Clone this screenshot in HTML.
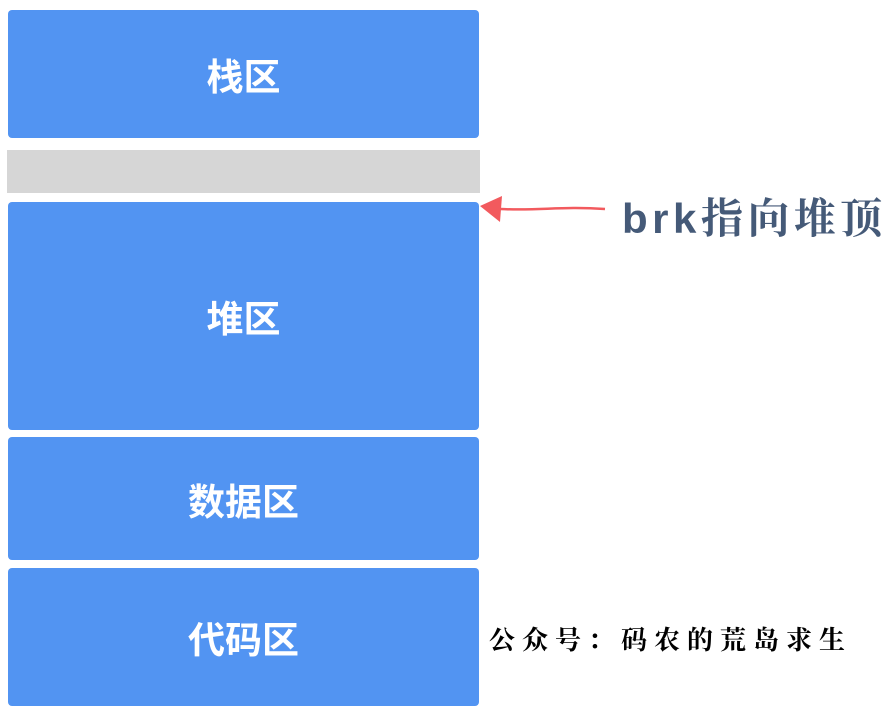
<!DOCTYPE html>
<html><head><meta charset="utf-8"><style>
body{margin:0;width:894px;height:714px;background:#fff;position:relative;overflow:hidden;font-family:"Liberation Sans","Noto Sans CJK SC",sans-serif}
.b{position:absolute;left:8px;width:471px;background:#5294f2;color:#fff;font-weight:bold;font-size:37px;display:flex;align-items:center;justify-content:center;border-radius:4px}
</style></head><body>
<div class="b" style="top:10px;height:128px">栈区</div>
<div style="position:absolute;left:7px;top:150px;width:473px;height:43px;background:#d6d6d6"></div>
<div class="b" style="top:202px;height:228px">堆区</div>
<div class="b" style="top:437px;height:123px">数据区</div>
<div class="b" style="top:568px;height:138px">代码区</div>
<svg style="position:absolute;left:0;top:0" width="894" height="714">
<path d="M500 209 C540 211,560 206,605 209" stroke="#f25a5e" stroke-width="2.5" fill="none"/>
<polygon points="480,206 502,196 500,222" fill="#f25a5e"/>
</svg>
<div style="position:absolute;left:622px;top:186px;font-size:42px;font-weight:bold;color:#455a78;font-family:'Liberation Sans','Noto Serif CJK SC',sans-serif;letter-spacing:4.5px;white-space:nowrap">brk指向堆顶</div>
<div style="position:absolute;left:489px;top:620px;font-size:26px;color:#000;font-family:'Noto Serif CJK SC',serif;font-weight:bold;letter-spacing:7px;white-space:nowrap">公众号：码农的荒岛求生</div>
</body></html>
